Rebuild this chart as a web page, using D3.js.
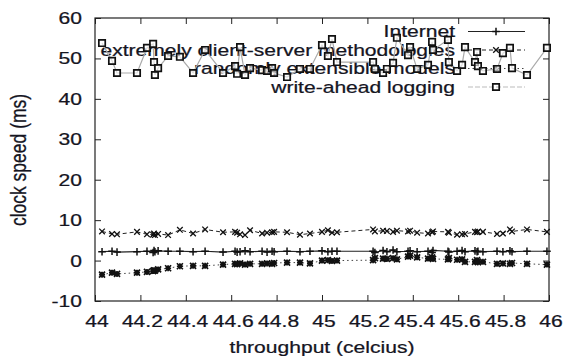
<!DOCTYPE html>
<html>
<head>
<meta charset="utf-8">
<script src="https://cdn.jsdelivr.net/npm/d3@7"></script>
<style>
  html, body { margin: 0; padding: 0; background: #fff; }
  svg { display: block; }
</style>
</head>
<body>
<div id="chart"></div>
<script>
// throughput (celcius) sample positions, shared by every series
const THROUGHPUT = [
  44.031, 44.075, 44.097, 44.185, 44.229, 44.256, 44.260, 44.264, 44.278, 44.322,
  44.374, 44.432, 44.485, 44.564, 44.617, 44.626, 44.639, 44.661, 44.683, 44.736,
  44.758, 44.780, 44.789, 44.846, 44.903, 44.947, 45.000, 45.026, 45.044, 45.066,
  45.225, 45.233, 45.269, 45.286, 45.313, 45.330, 45.379, 45.388, 45.419, 45.467,
  45.485, 45.489, 45.555, 45.559, 45.595, 45.617, 45.630, 45.674, 45.683, 45.687,
  45.709, 45.771, 45.797, 45.828, 45.837, 45.903, 45.991
]

const INTERNET = [
  2.2, 2.3, 2.1, 2.2, 2.3, 2.0, 2.5, 2.2, 2.4, 2.3,
  2.3, 2.2, 2.3, 2.1, 2.3, 2.1, 2.2, 2.4, 2.2, 2.3,
  2.1, 2.3, 2.2, 2.3, 2.2, 2.3, 2.4, 2.2, 2.3, 2.3,
  2.3, 2.0, 2.5, 2.2, 2.6, 2.2, 2.3, 2.4, 2.2, 2.3,
  2.0, 2.5, 2.3, 2.1, 2.3, 2.5, 2.2, 2.4, 2.2, 2.3,
  2.2, 2.3, 2.2, 2.4, 2.2, 2.3, 2.3
]

const CLIENT_SERVER = [
  7.2, 6.6, 6.5, 7.1, 6.5, 6.4, 6.7, 6.3, 6.6, 6.3,
  7.6, 6.7, 7.7, 7.0, 7.1, 6.9, 6.5, 6.3, 7.5, 6.7,
  6.9, 7.0, 7.1, 7.0, 6.4, 6.7, 7.1, 7.5, 6.9, 7.0,
  7.7, 7.2, 7.4, 7.3, 7.1, 7.4, 7.2, 7.4, 6.9, 6.7,
  7.0, 7.2, 7.1, 6.9, 6.4, 6.5, 6.6, 7.1, 7.0, 7.2,
  7.1, 6.6, 6.7, 7.7, 7.2, 7.7, 7.1
]

const RANDOMLY = [
  -3.5, -3.0, -3.3, -3.0, -2.8, -2.6, -2.4, -2.5, -2.2, -1.9,
  -1.4, -1.3, -1.3, -1.0, -0.8, -0.9, -0.7, -1.0, -0.8, -0.8,
  -0.7, -0.8, -0.6, -0.5, -0.5, -0.7, 0.0, 0.1, -0.1, 0.0,
  0.1, 0.6, 0.5, 0.4, 0.6, 0.3, 1.0, 1.2, 0.8, 0.5,
  0.8, 0.4, 0.3, 0.6, 0.2, 0.3, -0.3, -0.3, 0.1, -0.4,
  -0.3, -0.8, -0.7, -0.8, -0.6, -0.8, -1.0
]

const WRITE_AHEAD = [
  53.8, 49.4, 46.4, 46.4, 52.6, 53.6, 49.1, 45.9, 47.6, 50.6,
  50.4, 46.4, 52.1, 46.4, 48.1, 46.2, 52.8, 45.9, 47.6, 47.1,
  46.9, 47.6, 46.4, 45.4, 47.4, 47.4, 53.3, 50.6, 54.8, 49.1,
  49.1, 47.4, 46.4, 47.4, 48.9, 55.1, 50.8, 52.8, 47.4, 48.4,
  54.1, 52.1, 54.6, 49.1, 46.9, 48.4, 52.8, 49.1, 51.6, 48.1,
  46.9, 47.4, 51.3, 52.6, 47.6, 45.9, 52.6
]

const X_TICKS = [44, 44.2, 44.4, 44.6, 44.8, 45, 45.2, 45.4, 45.6, 45.8, 46]
const Y_TICKS = [-10, 0, 10, 20, 30, 40, 50, 60]
const SERIES_NAMES = ['Internet', 'extremely client-server methodologies', 'randomly extensible models', 'write-ahead logging']

const FONT = '"Liberation Sans", Arial, Helvetica, sans-serif'
const SX = 1.24 // the source picture is stretched horizontally

const svg = d3.select('#chart').append('svg')
  .attr('width', 566).attr('height', 360)
  .style('background', '#fff')

const x = d3.scaleLinear().domain([44, 46]).range([95, 549])
const y = d3.scaleLinear().domain([-10, 60]).range([301, 18])

function label(sel, px, py, anchor, txt) {
  return sel.append('text')
    .attr('transform', `translate(${px},${py}) scale(${SX},1)`)
    .attr('text-anchor', anchor)
    .attr('font-family', FONT).attr('font-size', 17)
    .attr('fill', '#15151f')
    .attr('stroke', '#15151f').attr('stroke-width', 0.25)
    .text(txt)
}

// ticks, inward on all four sides
const tickStyle = ax => {
  ax.select('.domain').remove()
  ax.selectAll('text').remove()
  ax.selectAll('line').attr('stroke', '#222').attr('stroke-width', 1)
}
svg.append('g').attr('transform', 'translate(0,301)')
  .call(d3.axisBottom(x).tickValues(X_TICKS).tickSize(-6)).call(tickStyle)
svg.append('g').attr('transform', 'translate(0,18)')
  .call(d3.axisTop(x).tickValues(X_TICKS).tickSize(-6)).call(tickStyle)
svg.append('g').attr('transform', 'translate(95,0)')
  .call(d3.axisLeft(y).tickValues(Y_TICKS).tickSize(-6)).call(tickStyle)
svg.append('g').attr('transform', 'translate(549,0)')
  .call(d3.axisRight(y).tickValues(Y_TICKS).tickSize(-6)).call(tickStyle)

svg.append('rect')
  .attr('x', x(44)).attr('y', y(60))
  .attr('width', x(46) - x(44)).attr('height', y(-10) - y(60))
  .attr('fill', 'none').attr('stroke', '#222').attr('stroke-width', 1.2)

X_TICKS.forEach(t => label(svg, x(t) + 2, 327, 'middle', d3.format('')(t)))
Y_TICKS.forEach(t => label(svg, 82, y(t) + 6, 'end', t))

label(svg, 322, 353, 'middle', 'throughput (celcius)')
svg.append('text')
  .attr('transform', `translate(26,160) scale(${SX},1) rotate(-90)`)
  .attr('text-anchor', 'middle')
  .attr('font-family', FONT).attr('font-size', 17.5)
  .attr('fill', '#15151f')
  .attr('stroke', '#15151f').attr('stroke-width', 0.25)
  .text('clock speed (ms)')

// marker shapes
const markers = {
  plus: s => `M${-s},0H${s}M0,${-s}V${s}`,
  cross: s => `M${-s},${-s}L${s},${s}M${-s},${s}L${s},${-s}`,
  star: s => `M${-s},0H${s}M0,${-s}V${s}M${-s},${-s}L${s},${s}M${-s},${s}L${s},${-s}`,
  square: s => `M${-s},${-s}H${s}V${s}H${-s}Z`
}

const styles = [
  { values: INTERNET, stroke: '#222', width: 1.2, dash: null, marker: 'plus', msize: 3.8, mw: 1.5 },
  { values: CLIENT_SERVER, stroke: '#222', width: 1, dash: '4,3', marker: 'cross', msize: 2.8, mw: 1.3 },
  { values: RANDOMLY, stroke: '#444', width: 1, dash: '1.5,3', marker: 'star', msize: 3, mw: 1.7 },
  { values: WRITE_AHEAD, stroke: '#aaa', width: 1.2, dash: null, marker: 'square', msize: 3.2, mw: 1.7 }
]

// legend
const legendBase = [37, 55.5, 74, 92.5]
SERIES_NAMES.forEach((name, i) => {
  const st = styles[i]
  const ly = legendBase[i] - 5.5
  label(svg, 455, legendBase[i], 'end', name)
  svg.append('line')
    .attr('x1', 468).attr('x2', 525).attr('y1', ly).attr('y2', ly)
    .attr('stroke', i === 3 ? '#bbb' : st.stroke).attr('stroke-width', st.width)
    .attr('stroke-dasharray', i === 3 ? '5,2' : st.dash)
  svg.append('path')
    .attr('transform', `translate(496,${ly})`)
    .attr('d', markers[st.marker](st.msize))
    .attr('fill', 'none').attr('stroke', '#111').attr('stroke-width', st.mw)
})

// series
const line = vals => d3.line()
  .x((d, i) => x(THROUGHPUT[i]))
  .y(d => y(d))(vals)

styles.forEach(st => {
  const g = svg.append('g')
  g.append('path')
    .attr('d', line(st.values))
    .attr('fill', 'none')
    .attr('stroke', st.stroke).attr('stroke-width', st.width)
    .attr('stroke-dasharray', st.dash)
  g.selectAll('path.pt')
    .data(st.values)
    .enter().append('path')
    .attr('class', 'pt')
    .attr('transform', (d, i) => `translate(${x(THROUGHPUT[i])},${y(d)})`)
    .attr('d', markers[st.marker](st.msize))
    .attr('fill', st.marker === 'square' ? '#fff' : 'none')
    .attr('fill-opacity', 0.6)
    .attr('stroke', '#111').attr('stroke-width', st.mw)
})
</script>
</body>
</html>
